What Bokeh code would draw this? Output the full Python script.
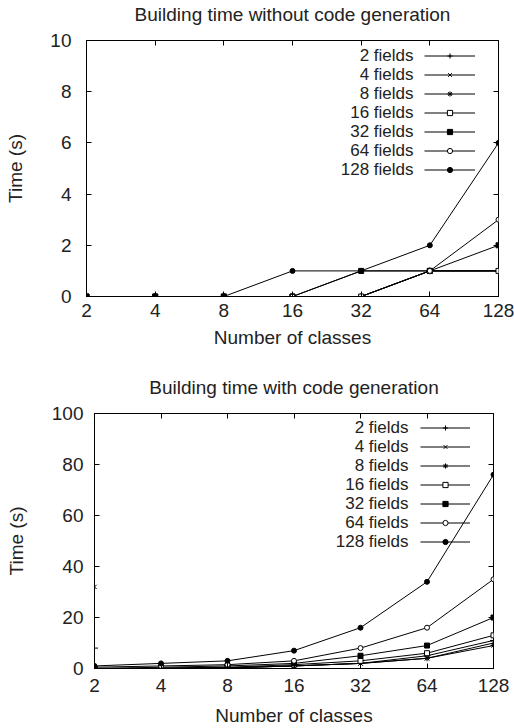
from bokeh.plotting import figure
from bokeh.models import (Range1d, FixedTicker, LogAxis, LinearAxis, Label, Legend,
                          LegendItem, CustomJSTickFormatter)
from bokeh.embed import file_html
from bokeh.resources import INLINE

# ---------------- data ----------------
classes = [2, 4, 8, 16, 32, 64, 128]
class_labels = ["2", "4", "8", "16", "32", "64", "128"]
field_names = ["2 fields", "4 fields", "8 fields", "16 fields", "32 fields", "64 fields", "128 fields"]

# Building time without code generation (s)
nogen_2 = [0, 0, 0, 0, 0, 1, 1]
nogen_4 = [0, 0, 0, 0, 0, 1, 1]
nogen_8 = [0, 0, 0, 0, 0, 1, 1]
nogen_16 = [0, 0, 0, 0, 0, 1, 1]
nogen_32 = [0, 0, 0, 0, 1, 1, 2]
nogen_64 = [0, 0, 0, 0, 1, 1, 3]
nogen_128 = [0, 0, 0, 1, 1, 2, 6]

# Building time with code generation (s)
gen_2 = [0, 0, 0.3, 1, 2, 5, 11]
gen_4 = [0, 0, 0.3, 1, 2, 4, 10]
gen_8 = [0, 0, 0.2, 1, 2, 4, 9]
gen_16 = [0, 0.2, 0.5, 1.5, 3, 6, 13]
gen_32 = [0, 0.5, 1, 2, 5, 9, 20]
gen_64 = [0.5, 1, 1.5, 3, 8, 16, 35]
gen_128 = [1, 2, 3, 7, 16, 34, 76]

# isolated points drawn on the left border of the second chart
gen_extra_x = [2, 2]
gen_extra_y = [8, 32]

nogen_yticks = [0, 2, 4, 6, 8, 10]
gen_yticks = [0, 20, 40, 60, 80, 100]

# ---------------- styles ----------------
FONT = "Liberation Sans"
TXT = "#222222"
MARKERS = ["cross", "x", "asterisk", "square", "square", "circle", "circle"]
FILLS = ["black", "black", "black", "white", "black", "white", "black"]
SIZES = [7, 6, 6, 5, 5, 5, 5]
W = 514


def make_plot(series, extra, title, y_end, y_ticks, g):
    fw, fh, H = g["fw"], g["fh"], g["H"]
    p = figure(width=W, height=H, x_axis_type="log",
               x_range=Range1d(2, 128), y_range=Range1d(0, y_end),
               output_backend="svg", toolbar_location=None,
               min_border_left=g["left"], min_border_right=W - g["left"] - fw,
               min_border_top=g["top"], min_border_bottom=H - g["top"] - fh,
               margin=(g["mtop"], 0, 0, 0))
    p.background_fill_color = "white"
    p.border_fill_color = "white"
    p.grid.visible = False
    p.outline_line_color = "black"
    p.outline_line_width = 1

    p.title.text = title
    p.title.align = "center"
    p.title.text_font = FONT
    p.title.text_font_size = "19px"
    p.title.text_font_style = "normal"
    p.title.text_color = TXT
    p.title.standoff = g["tstand"]

    fmt = CustomJSTickFormatter(args=dict(vals=classes, labs=class_labels),
                                code="const i = vals.indexOf(tick); return i >= 0 ? labs[i] : '';")
    xa = p.xaxis[0]
    xa.ticker = FixedTicker(ticks=classes)
    xa.formatter = fmt
    xa.major_label_standoff = g["xstand"]
    xa.axis_label = "Number of classes"
    xa.axis_label_standoff = g["xlstand"]
    ya = p.yaxis[0]
    ya.ticker = FixedTicker(ticks=y_ticks)
    ya.major_label_standoff = g["ystand"]
    ya.axis_label = "Time (s)"
    ya.axis_label_standoff = g["ylstand"]
    for ax in (xa, ya):
        ax.major_label_text_font_size = "19px"
        ax.axis_label_text_font = FONT
        ax.axis_label_text_font_size = "19px"
        ax.axis_label_text_font_style = "normal"
        ax.axis_label_text_color = TXT

    blank = CustomJSTickFormatter(code="return '';")
    top_ax = LogAxis(ticker=FixedTicker(ticks=classes), formatter=blank)
    right_ax = LinearAxis(ticker=FixedTicker(ticks=y_ticks), formatter=blank)
    for ax in (top_ax, right_ax):
        ax.major_label_text_font_size = "1px"
        ax.major_label_standoff = 0
        ax.axis_line_color = None
    p.add_layout(top_ax, "above")
    p.add_layout(right_ax, "right")

    for ax in p.axis:
        ax.major_tick_in = 5
        ax.major_tick_out = 0
        ax.minor_tick_line_color = None
        ax.major_tick_line_color = "black"
        ax.major_label_text_font = FONT
        ax.major_label_text_color = TXT

    items = []
    for ys, mk, fc, sz in zip(series, MARKERS, FILLS, SIZES):
        rl = p.line(classes, ys, line_color="black", line_width=1)
        rp = p.scatter(classes, ys, marker=mk, size=sz, line_color="black",
                       fill_color=fc, line_width=1)
        items.append(LegendItem(label=" ", renderers=[rl, rp]))

    if extra is not None:
        ex, ey = extra
        p.scatter(ex[:1], ey[:1], marker="cross", size=7, line_color="black", line_width=1)
        p.scatter(ex[1:], ey[1:], marker="x", size=6, line_color="black", line_width=1)

    legend = Legend(items=items, location=(g["lgx"], g["lgy"]), orientation="vertical",
                    glyph_width=g["lgw"], glyph_height=13, label_height=13, label_width=0,
                    label_standoff=0, spacing=6, padding=0, margin=0,
                    border_line_color=None, background_fill_alpha=0,
                    label_text_font_size="1px")
    p.add_layout(legend)

    for i, name in enumerate(field_names):
        p.add_layout(Label(x=g["ltx"], y=241 - 19 * i, x_units="screen", y_units="screen",
                           text=name, text_align="right", text_baseline="middle",
                           text_font=FONT, text_font_size="17px", text_color=TXT))
    return p


p1 = make_plot([nogen_2, nogen_4, nogen_8, nogen_16, nogen_32, nogen_64, nogen_128], None,
               "Building time without code generation", 10, nogen_yticks,
               dict(H=380, mtop=-16, fw=412, fh=256, left=86, top=56, tstand=31,
                    xstand=7, xlstand=7, ystand=15, ylstand=21,
                    lgx=338, lgy=120.5, lgw=51, ltx=327))
p2 = make_plot([gen_2, gen_4, gen_8, gen_16, gen_32, gen_64, gen_128], (gen_extra_x, gen_extra_y),
               "Building time with code generation", 100, gen_yticks,
               dict(H=372, mtop=-8, fw=399, fh=257, left=94, top=57, tstand=32,
                    xstand=10, xlstand=10, ystand=11, ylstand=22,
                    lgx=326, lgy=120.5, lgw=50, ltx=314))

open("out.html", "w").write(file_html([p1, p2], INLINE))
